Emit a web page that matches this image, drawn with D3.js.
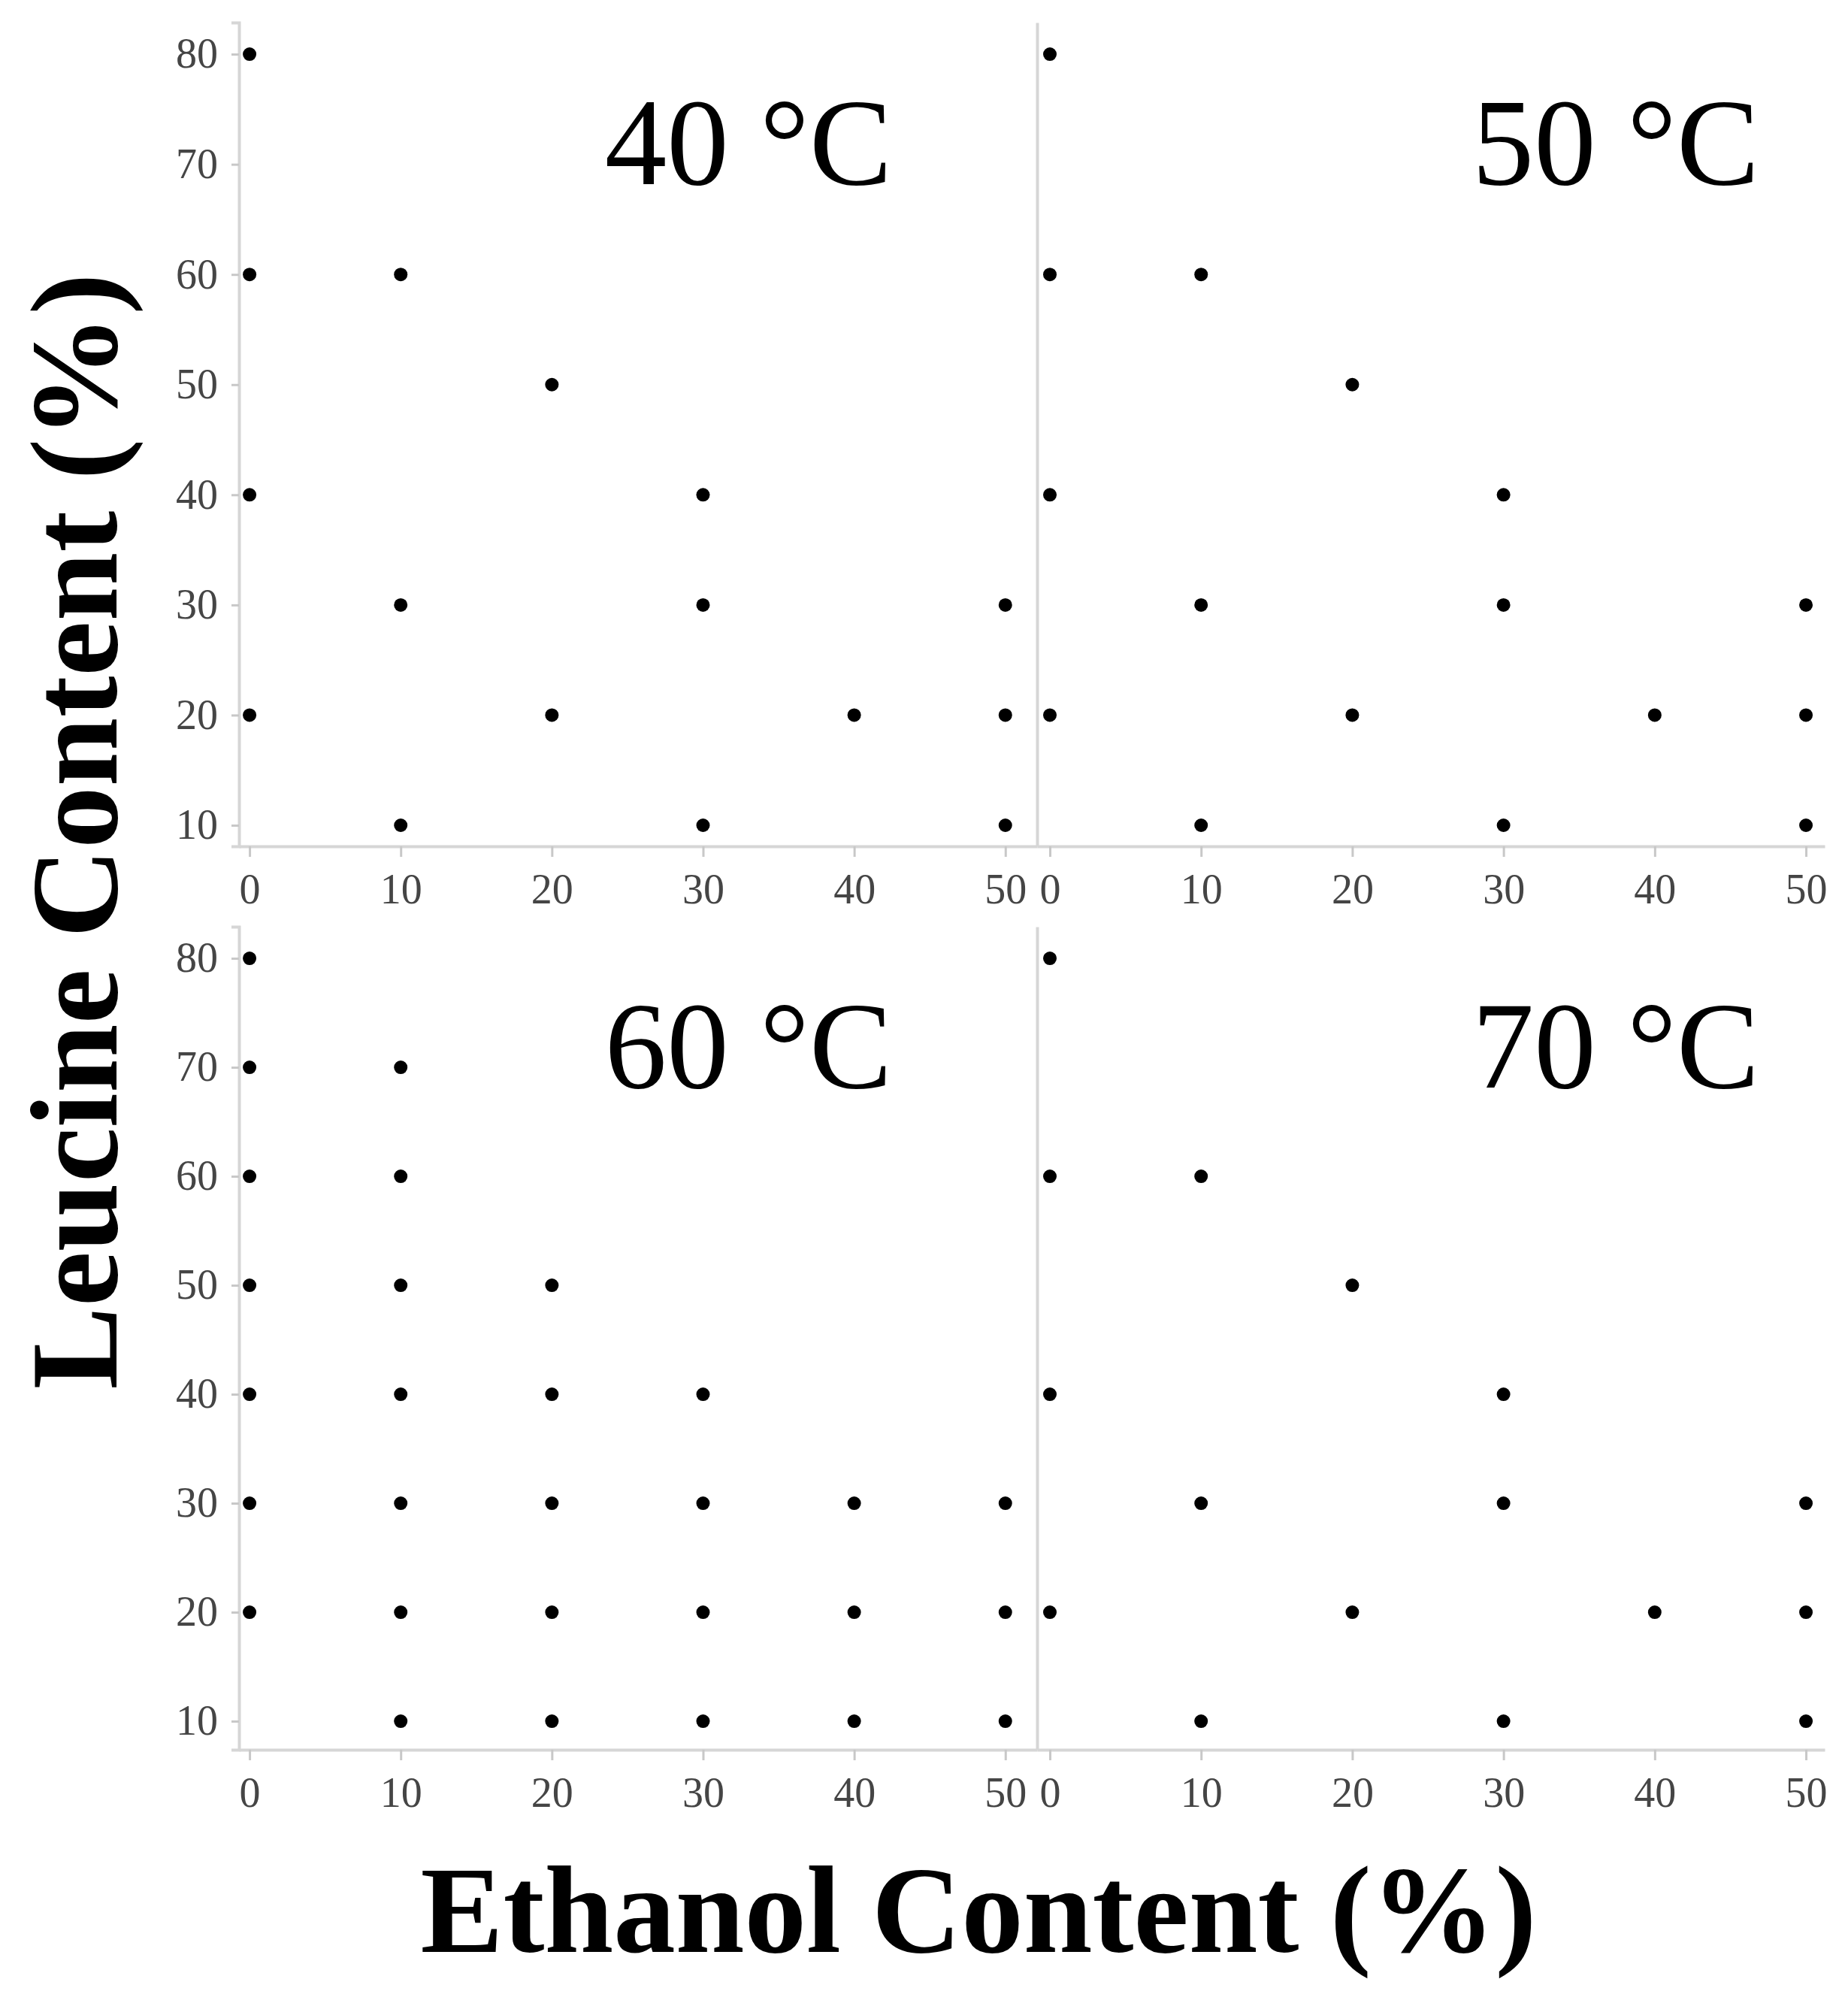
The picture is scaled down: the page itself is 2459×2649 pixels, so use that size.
<!DOCTYPE html>
<meta charset="utf-8">
<style>
  body { margin: 0; background: #fff; }
  .tick text {
      font-family: "Liberation Serif", "Times New Roman", serif;
      font-size: 56px;
      fill: #454545;
  }
  .tick line { stroke: #c8c8c8; stroke-width: 3; }
  .domain { stroke: #d6d6d6; stroke-width: 4; }
  .panelTitle {
      font-family: "Liberation Serif", "Times New Roman", serif;
      font-size: 165px;
      text-anchor: end;
  }
  .axisTitle {
      font-family: "Liberation Serif", "Times New Roman", serif;
      font-size: 165px;
      font-weight: bold;
      text-anchor: middle;
  }
</style>

<svg width="2459" height="2649"></svg>
<script src="https://d3js.org/d3.v7.min.js"></script>
<script>
// Data
var ethanolTicks = [0, 10, 20, 30, 40, 50];
var leucineTicks = [10, 20, 30, 40, 50, 60, 70, 80];
var temperatures = ["40 °C", "50 °C", "60 °C", "70 °C"];

// [ethanol %, leucine %] points for each temperature
var points40 = [[0,80],[0,60],[10,60],[20,50],[0,40],[30,40],[10,30],[30,30],[50,30],
                [0,20],[20,20],[40,20],[50,20],[10,10],[30,10],[50,10]];
var points50 = [[0,80],[0,60],[10,60],[20,50],[0,40],[30,40],[10,30],[30,30],[50,30],
                [0,20],[20,20],[40,20],[50,20],[10,10],[30,10],[50,10]];
var points60 = [[0,80],[0,70],[10,70],[0,60],[10,60],[0,50],[10,50],[20,50],
                [0,40],[10,40],[20,40],[30,40],
                [0,30],[10,30],[20,30],[30,30],[40,30],[50,30],
                [0,20],[10,20],[20,20],[30,20],[40,20],[50,20],
                [10,10],[20,10],[30,10],[40,10],[50,10]];
var points70 = [[0,80],[0,60],[10,60],[20,50],[0,40],[30,40],[10,30],[30,30],[50,30],
                [0,20],[20,20],[40,20],[50,20],[10,10],[30,10],[50,10]];

var svg = d3.select("svg");

// Scales shared by rows / columns
var xLeft = d3.scaleLinear().domain([-0.7, 52.1]).range([318, 1380]);
var xRight = d3.scaleLinear().domain([-0.845, 51.24]).range([1380, 2428]);
var yTop = d3.scaleLinear().domain([8.09, 82.87]).range([1126, 30]);
var yBottom = d3.scaleLinear().domain([7.38, 82.9]).range([2328, 1233]);

var panels = [
  {title: temperatures[0], pts: points40, left: true,  x: xLeft,  y: yTop,    titleX: 1187, titleY: 245},
  {title: temperatures[1], pts: points50, left: false, x: xRight, y: yTop,    titleX: 2341, titleY: 245},
  {title: temperatures[2], pts: points60, left: true,  x: xLeft,  y: yBottom, titleX: 1187, titleY: 1447},
  {title: temperatures[3], pts: points70, left: false, x: xRight, y: yBottom, titleX: 2341, titleY: 1447}
];

panels.forEach(function (p) {
  var g = svg.append("g");
  var x0 = p.x.range()[0];
  var yBase = p.y.range()[0];

  // x axis
  g.append("g")
      .attr("transform", "translate(0," + yBase + ")")
      .call(d3.axisBottom(p.x).tickValues(ethanolTicks).tickSize(14).tickPadding(22).tickSizeOuter(0));

  // y axis (labels only on the left column)
  var yAxis = d3.axisLeft(p.y).tickSizeOuter(0);
  if (p.left) {
    yAxis.tickValues(leucineTicks).tickSize(10).tickPadding(18);
  } else {
    yAxis.tickValues([]);
  }
  g.append("g")
      .attr("transform", "translate(" + x0 + ",0)")
      .call(yAxis);

  // points
  g.append("g")
    .selectAll("circle")
    .data(p.pts)
    .enter().append("circle")
      .attr("cx", function (d) { return p.x(d[0]); })
      .attr("cy", function (d) { return p.y(d[1]); })
      .attr("r", 9)
      .attr("fill", "#000");

  // temperature label
  g.append("text")
      .attr("class", "panelTitle")
      .attr("x", p.titleX)
      .attr("y", p.titleY)
      .text(p.title);
});

// Axis titles
svg.append("text")
    .attr("class", "axisTitle")
    .attr("x", 1302)
    .attr("y", 2597)
    .text("Ethanol Content (%)");

svg.append("text")
    .attr("class", "axisTitle")
    .attr("transform", "translate(155,1106) rotate(-90)")
    .text("Leucine Content (%)");
</script>
